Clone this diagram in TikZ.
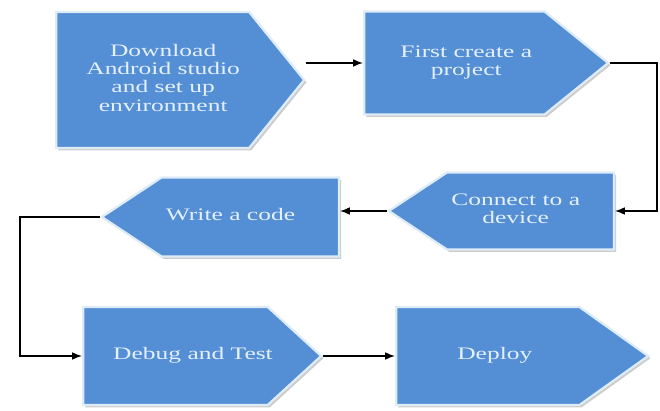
\documentclass[tikz,border=0pt]{standalone}
\usepackage{fontspec}
\usepackage{tikz}
\usetikzlibrary{shapes.symbols}
\usetikzlibrary{shadows}
\usetikzlibrary{arrows.meta}
\usepackage{xcolor}
\newfontfamily\StepFont{Liberation Serif}[FakeStretch=1.45]
\definecolor{ColFill}{RGB}{84,142,212}
\definecolor{ColRim}{RGB}{222,236,248}
\definecolor{ColText}{RGB}{228,240,252}
\newcommand{\ShiftText}[2]{\makebox[0pt]{\hspace*{#1}\begin{tabular}{@{}c@{}}#2\end{tabular}}}
\tikzstyle{StepShape}=[signal,draw=ColRim,line width=1.6pt,fill=ColFill,
text=ColText,inner sep=2pt,font=\StepFont\fontsize{12.5}{13}\selectfont,
drop shadow={shadow xshift=1.6pt,shadow yshift=-1.6pt,fill=black!40}]
\tikzstyle{FlowArrow}=[black,line width=1pt,-{Latex[length=7pt,width=5.5pt]}]

\begin{document}
\begin{tikzpicture}[x=0.025cm,y=-0.025cm]
        \useasboundingbox (0,0) rectangle (660,411);
        \node[StepShape,signal to=east,signal pointer angle=102,anchor=west,
            minimum width=6.2cm,minimum height=3.4cm](dl)at(55,80)
            {\ShiftText{15pt}{Download\\Android studio\\and set up\\environment}};
        \node[StepShape,signal to=east,signal pointer angle=78,anchor=west,
            minimum width=6.1cm,minimum height=2.575cm](fc)at(363,63)
            {\ShiftText{17pt}{First create a\\project}};
        \node[StepShape,signal to=west,signal pointer angle=67,anchor=east,
            minimum width=5.625cm,minimum height=1.925cm](cd)at(615,211)
            {\ShiftText{-21pt}{Connect to a\\device}};
        \node[StepShape,signal to=west,signal pointer angle=67,anchor=east,
            minimum width=5.925cm,minimum height=1.975cm](wc)at(340,217)
            {\ShiftText{-28pt}{Write a code}};
        \node[StepShape,signal to=east,signal pointer angle=85,anchor=west,
            minimum width=5.95cm,minimum height=2.45cm](dt)at(82,356)
            {\ShiftText{25pt}{Debug and Test}};
        \node[StepShape,signal to=east,signal pointer angle=71,anchor=west,
            minimum width=6.3cm,minimum height=2.45cm](dp)at(395,356)
            {\ShiftText{10pt}{Deploy}};
        \coordinate(turnR)at(657,63);
        \coordinate(turnL)at(20,213);
        \draw[FlowArrow](dl.east|-fc.west)--(fc.west);
        \draw[FlowArrow](fc.east)--(fc.east-|turnR)|-(cd.east);
        \draw[FlowArrow](cd.west)--(cd.west-|wc.east);
        \draw[FlowArrow](wc.west)--(wc.west-|turnL)|-(dt.west);
        \draw[FlowArrow](dt.east)--(dt.east-|dp.west);
    \end{tikzpicture}
\end{document}
